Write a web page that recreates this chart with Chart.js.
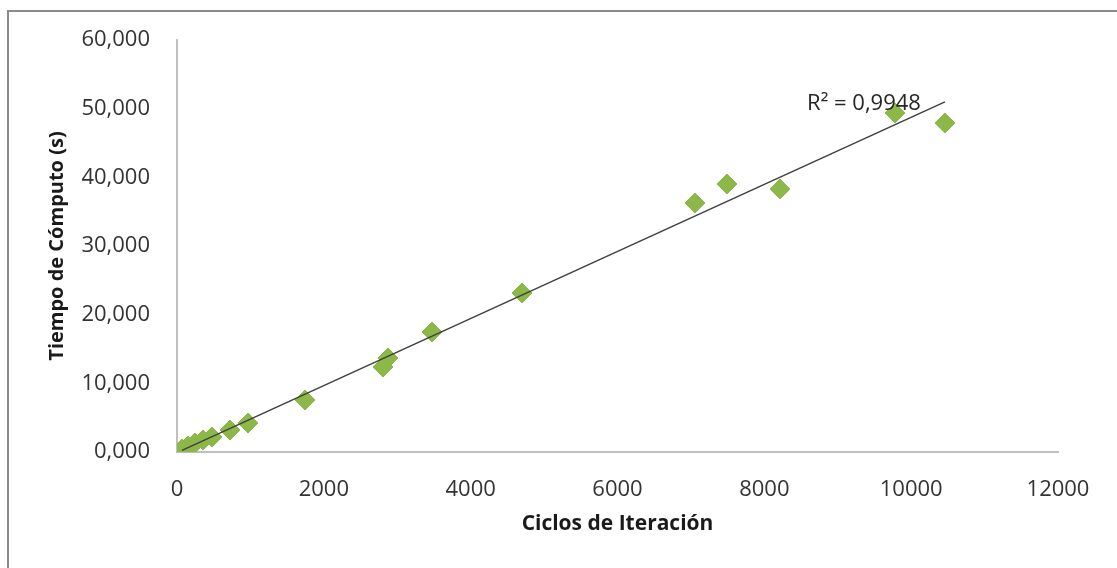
<!DOCTYPE html>
<html>
<head>
<meta charset="utf-8">
<script src="https://cdn.jsdelivr.net/npm/chart.js@4/dist/chart.umd.min.js"></script>
<style>
  html, body { margin: 0; padding: 0; background: #fff; }
  #wrap { width: 1117px; height: 568px; }
</style>
</head>
<body>
<div id="wrap"><canvas id="c" width="1117" height="568"></canvas></div>
<script>
// Data
const ciclos = [68, 150, 245, 354, 477, 722, 967, 1743, 2806, 2874, 3473, 4699, 7055, 7491, 8213, 9780, 10460];
const tiempos = [0.44, 0.87, 1.31, 1.75, 2.18, 3.20, 4.22, 7.57, 12.38, 13.69, 17.47, 23.15, 36.26, 39.03, 38.30, 49.37, 47.91];
const xTicks = [0, 2000, 4000, 6000, 8000, 10000, 12000];
const yTicks = [0, 10, 20, 30, 40, 50, 60];
const r2Label = 'R² = 0,9948';
const xTitle = 'Ciclos de Iteración';
const yTitle = 'Tiempo de Cómputo (s)';

// Linear regression for trendline
const n = ciclos.length;
const mx = ciclos.reduce((a, b) => a + b, 0) / n;
const my = tiempos.reduce((a, b) => a + b, 0) / n;
let sxy = 0, sxx = 0;
for (let i = 0; i < n; i++) { sxy += (ciclos[i] - mx) * (tiempos[i] - my); sxx += (ciclos[i] - mx) ** 2; }
const slope = sxy / sxx, icpt = my - slope * mx;
const xmin = Math.min(...ciclos), xmax = Math.max(...ciclos);
const trend = [{x: xmin, y: icpt + slope * xmin}, {x: xmax, y: icpt + slope * xmax}];

const points = ciclos.map((x, i) => ({x, y: tiempos[i]}));

const frame = {
  id: 'frame',
  afterDraw(chart) {
    const ctx = chart.ctx;
    ctx.save();
    ctx.strokeStyle = '#8a8a8a';
    ctx.lineWidth = 2;
    ctx.strokeRect(8, 11, 1300, 800);
    // R² label near the end of the trendline
    const xs = chart.scales.x, ys = chart.scales.y;
    const px = xs.getPixelForValue(trend[1].x);
    const py = ys.getPixelForValue(trend[1].y);
    ctx.fillStyle = '#262626';
    ctx.font = '22px "Open Sans"';
    ctx.textAlign = 'right';
    ctx.textBaseline = 'middle';
    ctx.fillText(r2Label, px - 24, py + 2);
    ctx.restore();
  }
};

new Chart(document.getElementById('c'), {
  type: 'scatter',
  data: {
    datasets: [
      {
        type: 'line',
        data: trend,
        borderColor: '#404040',
        borderWidth: 1.5,
        pointRadius: 0,
        fill: false,
        order: 0
      },
      {
        data: points,
        pointStyle: 'rectRot',
        pointRadius: 10,
        pointBackgroundColor: '#8cb84a',
        pointBorderColor: '#8cb84a',
        pointBorderWidth: 1,
        order: 1
      }
    ]
  },
  options: {
    responsive: false,
    animation: false,
    events: [],
    layout: { padding: { left: 0, top: 40, right: 59, bottom: 0 } },
    plugins: { legend: { display: false }, tooltip: { enabled: false } },
    scales: {
      x: {
        type: 'linear',
        min: 0, max: 12000,
        afterBuildTicks(s) { s.ticks = xTicks.map(v => ({value: v})); },
        afterFit(s) { s.height = 116; },
        grid: { display: false },
        border: { display: true, color: '#bfbfbf', width: 2 },
        ticks: {
          color: '#333333',
          font: { family: 'Open Sans', size: 22 },
          padding: 17,
          maxRotation: 0,
          callback: v => String(v)
        },
        title: {
          display: true,
          text: xTitle,
          color: '#1a1a1a',
          font: { family: 'Open Sans', size: 21, weight: 'bold' },
          padding: { top: 0, bottom: 31 }
        }
      },
      y: {
        type: 'linear',
        min: 0, max: 60,
        afterBuildTicks(s) { s.ticks = yTicks.map(v => ({value: v})); },
        afterFit(s) { s.width = 177; },
        grid: { display: false },
        border: { display: true, color: '#bfbfbf', width: 2 },
        ticks: {
          color: '#333333',
          font: { family: 'Open Sans', size: 22 },
          padding: 19,
          callback: v => v.toFixed(3).replace('.', ',')
        },
        title: {
          display: true,
          text: yTitle,
          color: '#1a1a1a',
          font: { family: 'Open Sans', size: 20, weight: 'bold' },
          padding: { top: 45, bottom: 0 }
        }
      }
    }
  },
  plugins: [frame]
});
</script>
</body>
</html>
